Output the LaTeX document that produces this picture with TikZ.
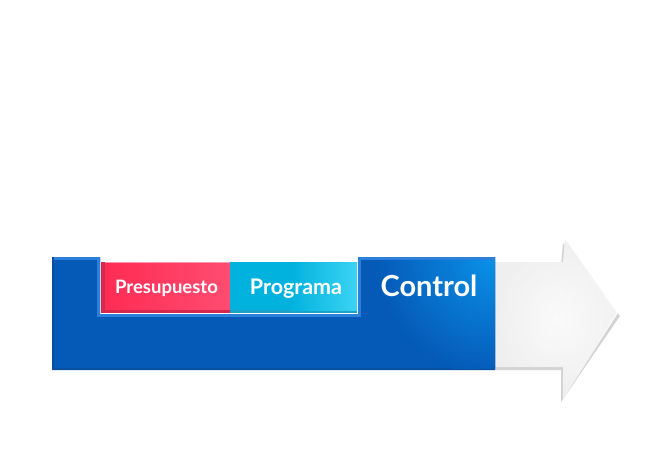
\documentclass[tikz,border=0pt]{standalone}
\usepackage{fontspec}
\setmainfont{Lato}
\usetikzlibrary{shadings}
\definecolor{bluemain}{HTML}{0559B7}
\definecolor{bluelight}{HTML}{2C80DA}
\definecolor{bluedark}{HTML}{0A4E9E}
\definecolor{bluebright}{HTML}{0A92E8}
\definecolor{redmain}{HTML}{FF2C55}
\definecolor{redlight}{HTML}{FF4C70}
\definecolor{reddark}{HTML}{D4284C}
\definecolor{cyanmain}{HTML}{00B2DD}
\definecolor{cyanlight}{HTML}{3CD3F3}
\definecolor{cyandark}{HTML}{1AA3C4}
\definecolor{graymain}{HTML}{EFEFEF}
\definecolor{graylight}{HTML}{FAFAFA}
\definecolor{grayshadow}{HTML}{D3D3D3}
\tikzset{
  label/.style={text=white, font=\bfseries, anchor=base, inner sep=0pt},
}
\begin{document}
\begin{tikzpicture}[x=1pt,y=-1pt]
\useasboundingbox (0,0) rectangle (663,450);
% arrow shadow
\fill[grayshadow] (495,265) -- (561,265) -- (563,243) -- (620,316) -- (561,402) -- (561,370) -- (495,370) -- cycle;
% arrow body
\shade[left color=graymain, right color=graylight, middle color=graymain]
  (495,262) -- (563,262) -- (565,239) -- (618,313) -- (563,399) -- (563,367) -- (495,367) -- cycle;
\shade[inner color=white, outer color=graymain, opacity=0.7]
  (495,262) -- (563,262) -- (565,241) -- (616,313) -- (563,397) -- (563,366) -- (495,366) -- cycle;
% blue base
\fill[bluedark] (52,257) -- (100,257) -- (100,317) -- (358,317) -- (358,257) -- (495,257) -- (495,370) -- (52,370) -- cycle;
\fill[bluemain] (54,257) -- (100,257) -- (100,317) -- (358,317) -- (358,257) -- (495,257) -- (495,368) -- (54,368) -- cycle;
% control highlight
\begin{scope}
  \clip (358,257) rectangle (495,368);
  \shade[inner color=bluebright, outer color=bluemain] (495,257) circle (120);
\end{scope}
% light rim
\draw[bluelight, line width=3pt, line join=miter]
  (54,258.5) -- (98.5,258.5) -- (98.5,315.5) -- (359.5,315.5) -- (359.5,258.5) -- (495,258.5);
% red box
\fill[reddark] (101,262) rectangle (230,313);
\shade[left color=redmain, right color=redlight] (105,262) rectangle (230,309);
\draw[redlight!60!white, line width=0.8pt] (105,262.4) -- (230,262.4);
% cyan box
\fill[cyandark] (230,262) rectangle (357,313);
\fill[cyanmain] (230,262) rectangle (290,310);
\shade[left color=cyanmain, right color=cyanlight] (290,262) rectangle (357,310);
% labels
\node[label, font=\bfseries\fontsize{18.5}{21}\selectfont] (presupuesto) at (166.5,293.5) {Presupuesto};
\node[label, font=\bfseries\fontsize{21.5}{25}\selectfont] (programa) at (296,294) {Programa};
\node[label, font=\bfseries\fontsize{29}{33}\selectfont] (control) at (429,296) {Control};
\end{tikzpicture}
\end{document}
